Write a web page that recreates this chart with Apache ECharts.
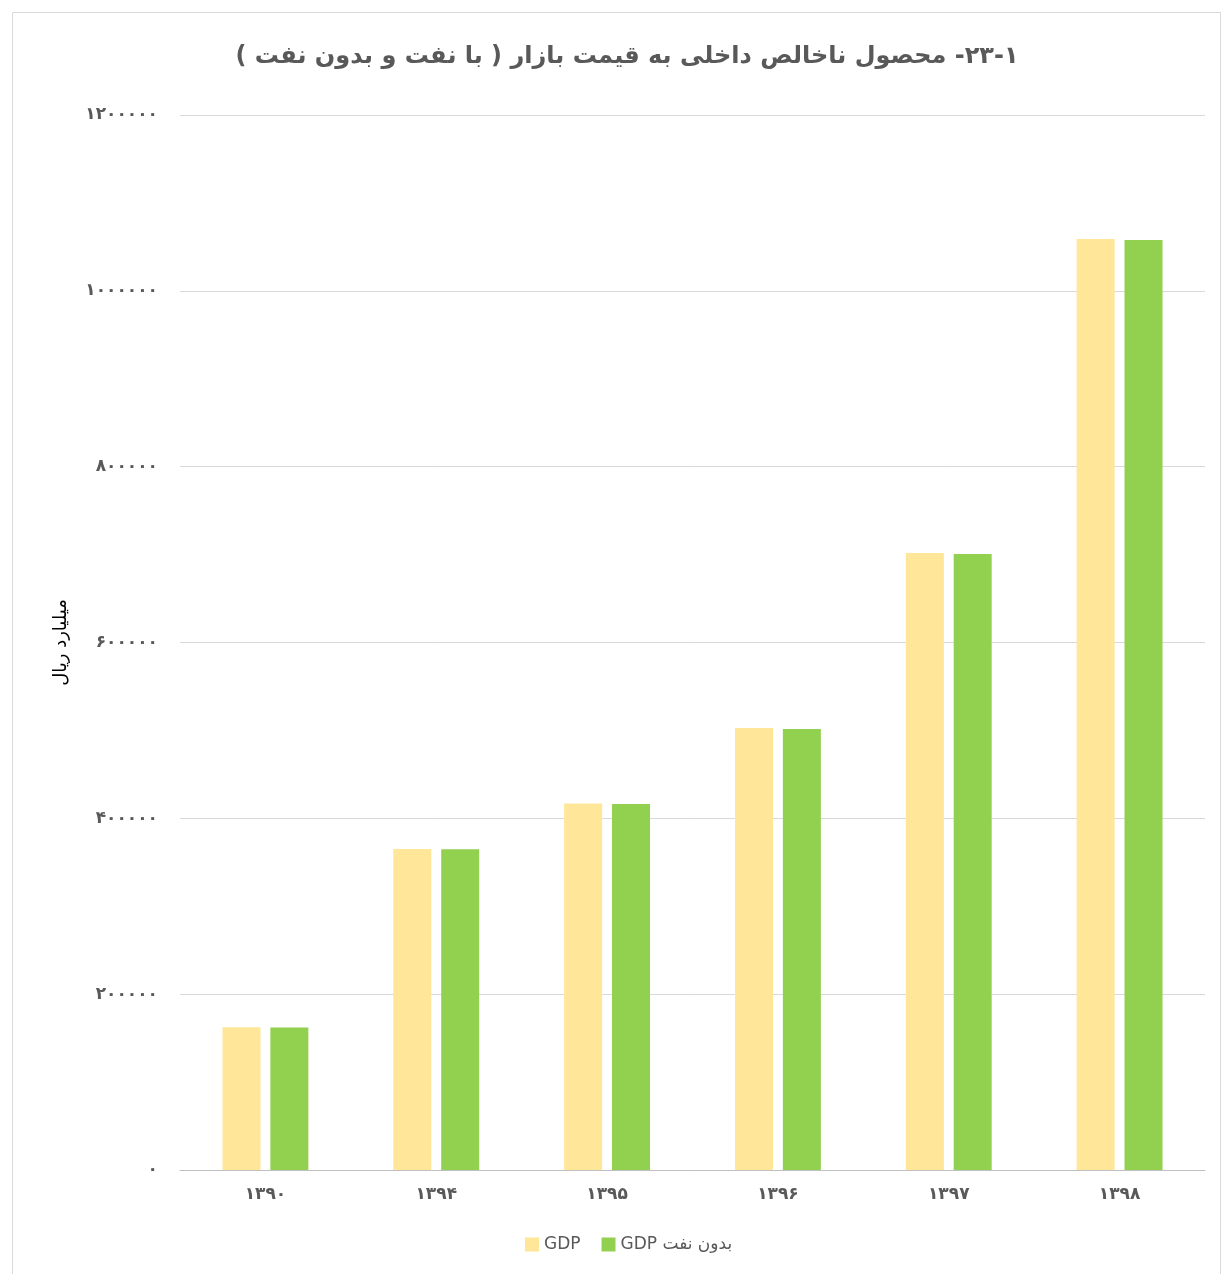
<!DOCTYPE html>
<html>
<head>
<meta charset="utf-8">
<script src="https://cdn.jsdelivr.net/npm/echarts@6/dist/echarts.min.js"></script>
<style>
html,body{margin:0;padding:0;background:#fff;}
#c{width:1225px;height:1274px;}
</style>
</head>
<body>
<div id="c"></div>
<script>
const categories = ['۱۳۹۰', '۱۳۹۴', '۱۳۹۵', '۱۳۹۶', '۱۳۹۷', '۱۳۹۸'];
const seriesNames = ['GDP', 'GDP بدون نفت'];
const gdp = [162500, 365200, 416900, 502700, 701800, 1059000];
const gdpNoOil = [162000, 364900, 416300, 501600, 700700, 1057800];
const yTicks = [0, 200000, 400000, 600000, 800000, 1000000, 1200000];
const titleText = '۲۳-۱- محصول ناخالص داخلی به قیمت بازار ( با نفت و بدون نفت )';
const yAxisName = 'میلیارد ریال';

const faDigits = '۰۱۲۳۴۵۶۷۸۹';
function toFa(v){ return String(v).replace(/[0-9]/g, d => faDigits[+d]); }

const chart = echarts.init(document.getElementById('c'), null, {renderer:'canvas'});
chart.setOption({
  backgroundColor: '#fff',
  animation: false,
  graphic: [{
    type: 'rect', left: 10, top: 10,
    shape: {width: 1208, height: 1262},
    style: {fill: 'none', stroke: '#d9d9d9', lineWidth: 1}, silent: true
  }],
  title: {
    text: '\u202B' + titleText + '\u202C', left: 622, textAlign: 'center', top: 40,
    textStyle: {fontFamily: 'DejaVu Sans', fontWeight: 'bold', fontSize: 24, color: '#595959'}
  },
  legend: {
    data: seriesNames, bottom: 16, left: 520, icon: 'rect',
    itemWidth: 14, itemHeight: 14, itemGap: 21,
    textStyle: {fontFamily: 'DejaVu Sans', fontSize: 17, color: '#595959'}
  },
  grid: {left: 180, right: 20, top: 115, bottom: 104, containLabel: false},
  xAxis: {
    type: 'category', data: categories,
    axisLine: {lineStyle: {color: '#bfbfbf'}}, axisTick: {show: false},
    axisLabel: {fontFamily: 'DejaVu Sans', fontWeight: 'bold', fontSize: 17, color: '#595959', margin: 16}
  },
  yAxis: {
    type: 'value', min: 0, max: yTicks[yTicks.length - 1], interval: yTicks[1] - yTicks[0],
    name: yAxisName, nameLocation: 'middle', nameGap: 110, nameRotate: 90,
    nameTextStyle: {fontFamily: 'DejaVu Sans', fontSize: 18, color: '#000'},
    axisLine: {show: false}, axisTick: {show: false},
    splitLine: {lineStyle: {color: '#d9d9d9', width: 1}},
    axisLabel: {fontFamily: 'DejaVu Sans', fontWeight: 'bold', fontSize: 17, color: '#595959', margin: 22,
      formatter: v => toFa(v)}
  },
  series: [
    {name: seriesNames[0], type: 'bar', data: gdp, itemStyle: {color: '#FFE699'},
     barWidth: 38, barGap: '26%'},
    {name: seriesNames[1], type: 'bar', data: gdpNoOil, itemStyle: {color: '#92D050'},
     barWidth: 38, barGap: '26%'}
  ]
});
</script>
</body>
</html>
